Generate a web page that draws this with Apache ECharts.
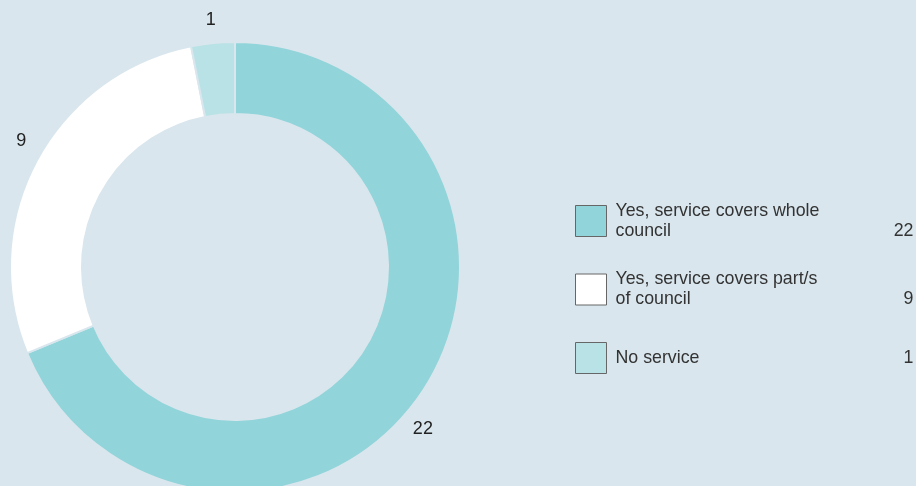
<!DOCTYPE html>
<html><head><meta charset="utf-8">
<script src="https://cdn.jsdelivr.net/npm/echarts@6/dist/echarts.min.js"></script>
<style>html,body{margin:0;padding:0;background:#d9e6ed;}#c{width:916px;height:486px;}</style>
</head><body><div id="c"></div>
<script>
const categories = ['Yes, service covers whole\ncouncil', 'Yes, service covers part/s\nof council', 'No service'];
const values = [22, 9, 1];
const colors = ['#91d4da', '#ffffff', '#b8e2e5'];

const CX = 235, CY = 267, R0 = 153, R1 = 225, LABEL_R = 248;
const total = values.reduce((a, b) => a + b, 0);
function labelAngle(i) {
  let s = 0;
  for (let k = 0; k < i; k++) s += values[k];
  const nudgeDeg = [7, 2.3, 0][i] || 0; // small label shifts as in the original
  return (s + values[i] / 2) / total * 2 * Math.PI + nudgeDeg * Math.PI / 180;
}

const chart = echarts.init(document.getElementById('c'));
const data = categories.map((n, i) => ({ name: n, value: values[i], itemStyle: { color: colors[i] } }));
const richBase = { fontSize: 17.8, color: '#333', fontFamily: 'Liberation Sans' };
chart.setOption({
  backgroundColor: '#d9e6ed',
  animation: false,
  textStyle: { fontFamily: 'Liberation Sans' },
  legend: {
    orient: 'vertical',
    left: 575,
    top: 202,
    padding: 0,
    icon: 'rect',
    itemWidth: 31,
    itemHeight: 31,
    itemGap: 30.5,
    itemStyle: { borderColor: '#666', borderWidth: 1 },
    data: categories,
    formatter: function (name) {
      const i = categories.indexOf(name);
      const multi = name.indexOf('\n') >= 0;
      return multi ? '{n|' + name + '}{v|' + values[i] + '}'
                   : '{s|' + name + '}{w|' + values[i] + '}';
    },
    textStyle: {
      padding: [0, 0, 0, 4],
      rich: {
        n: Object.assign({ width: 270, lineHeight: 20 }, richBase),
        v: Object.assign({ width: 28, align: 'right', lineHeight: 20 }, richBase),
        s: Object.assign({ width: 270, lineHeight: 20, padding: [10, 0, 10, 0] }, richBase),
        w: Object.assign({ width: 28, align: 'right', lineHeight: 20, padding: [10, 0, 10, 0] }, richBase)
      }
    }
  },
  series: [{
    type: 'pie',
    center: [CX, CY],
    radius: [R0, R1],
    startAngle: 90,
    clockwise: true,
    avoidLabelOverlap: false,
    itemStyle: { borderColor: '#d9e6ed', borderWidth: 2 },
    label: { show: true, position: 'outside', formatter: '{c}', fontSize: 18, color: '#222', fontFamily: 'Liberation Sans' },
    labelLine: { show: false },
    labelLayout: function (p) {
      const a = labelAngle(p.dataIndex);
      return {
        x: CX + LABEL_R * Math.sin(a),
        y: CY - LABEL_R * Math.cos(a),
        align: 'center',
        verticalAlign: 'middle',
        hideOverlap: false
      };
    },
    emphasis: { disabled: true },
    data: data
  }]
});
</script></body></html>
